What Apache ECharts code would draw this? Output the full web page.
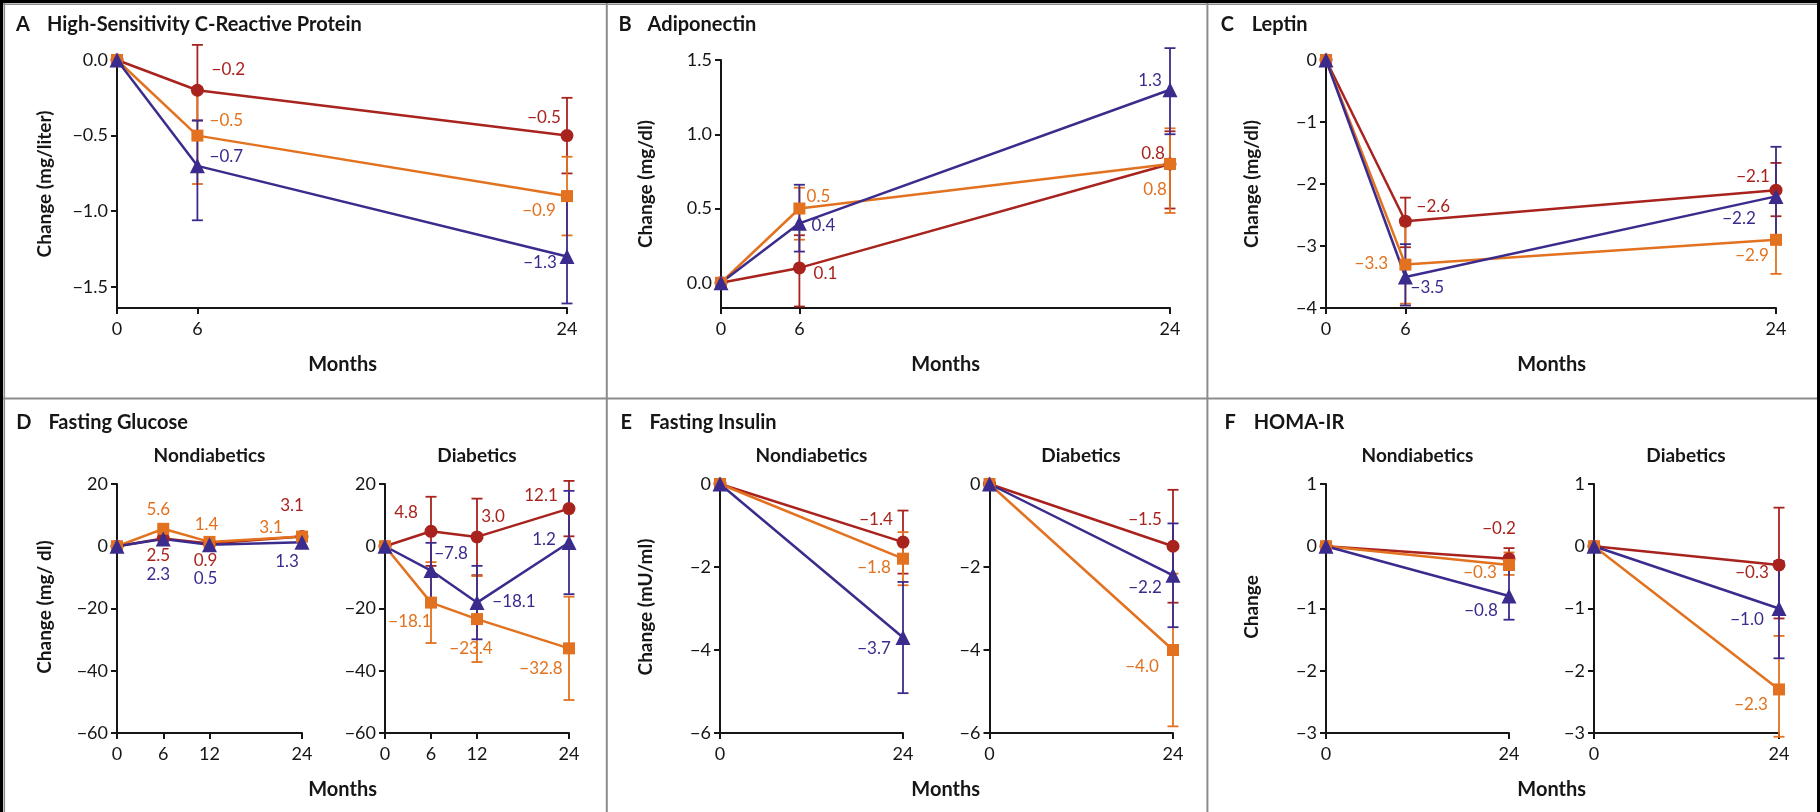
<!DOCTYPE html>
<html>
<head>
<meta charset="utf-8">
<title>Changes in Biomarkers by Diet Group</title>
<script src="https://cdn.jsdelivr.net/npm/echarts@6/dist/echarts.min.js"></script>
<style>
  html, body { margin: 0; padding: 0; background: #fff; }
  #chart { width: 1820px; height: 812px; }
</style>
</head>
<body>
<div id="chart"></div>
<script>
// ---------- data ----------
// Diet groups: low-fat (red circles), Mediterranean (orange squares), low-carbohydrate (blue triangles)

// A: high-sensitivity C-reactive protein (mg/liter)
const crpMonths = [0, 6, 24];
const crpLowFat = [0, -0.2, -0.5];
const crpMed = [0, -0.5, -0.9];
const crpLowCarb = [0, -0.7, -1.3];
const crpLowFatCI = [null, [-0.40, 0.10], [-0.75, -0.25]];
const crpMedCI = [null, [-0.82, -0.18], [-1.16, -0.64]];
const crpLowCarbCI = [null, [-1.06, -0.40], [-1.61, -0.89]];
const crpTicks = [0, -0.5, -1.0, -1.5];

// B: adiponectin (mg/dl)
const adipoMonths = [0, 6, 24];
const adipoLowFat = [0, 0.1, 0.8];
const adipoMed = [0, 0.5, 0.8];
const adipoLowCarb = [0, 0.4, 1.3];
const adipoLowFatCI = [null, [-0.16, 0.32], [0.50, 1.02]];
const adipoMedCI = [null, [0.29, 0.64], [0.47, 1.04]];
const adipoLowCarbCI = [null, [0.21, 0.66], [1.00, 1.58]];
const adipoTicks = [0, 0.5, 1.0, 1.5];

// C: leptin (mg/dl)
const leptinMonths = [0, 6, 24];
const leptinLowFat = [0, -2.6, -2.1];
const leptinMed = [0, -3.3, -2.9];
const leptinLowCarb = [0, -3.5, -2.2];
const leptinLowFatCI = [null, [-3.02, -2.22], [-2.52, -1.66]];
const leptinMedCI = [null, [-3.93, -2.67], [-3.45, -2.31]];
const leptinLowCarbCI = [null, [-3.96, -2.97], [-2.96, -1.40]];
const leptinTicks = [0, -1, -2, -3, -4];

// D: fasting glucose (mg/dl)
const glucoseMonths = [0, 6, 12, 24];
const glucoseNonLowFat = [0, 2.5, 0.9, 3.1];
const glucoseNonMed = [0, 5.6, 1.4, 3.1];
const glucoseNonLowCarb = [0, 2.3, 0.5, 1.3];
const glucoseDiabLowFat = [0, 4.8, 3.0, 12.1];
const glucoseDiabMed = [0, -18.1, -23.4, -32.8];
const glucoseDiabLowCarb = [0, -7.8, -18.1, 1.2];
const glucoseDiabLowFatCI = [null, [-6.3, 15.9], [-9.3, 15.3], [3.2, 21.0]];
const glucoseDiabMedCI = [null, [-31.1, -5.1], [-37.2, -9.6], [-49.4, -16.2]];
const glucoseDiabLowCarbCI = [null, [-16.7, 1.1], [-29.9, -6.3], [-15.4, 17.8]];
const glucoseTicks = [20, 0, -20, -40, -60];

// E: fasting insulin (mU/ml)
const insulinMonths = [0, 24];
const insulinNonLowFat = [0, -1.4];
const insulinNonMed = [0, -1.8];
const insulinNonLowCarb = [0, -3.7];
const insulinNonLowFatCI = [null, [-2.16, -0.64]];
const insulinNonMedCI = [null, [-2.44, -1.16]];
const insulinNonLowCarbCI = [null, [-5.04, -2.36]];
const insulinDiabLowFat = [0, -1.5];
const insulinDiabMed = [0, -4.0];
const insulinDiabLowCarb = [0, -2.2];
const insulinDiabLowFatCI = [null, [-2.86, -0.14]];
const insulinDiabMedCI = [null, [-5.84, -2.16]];
const insulinDiabLowCarbCI = [null, [-3.45, -0.95]];
const insulinTicks = [0, -2, -4, -6];

// F: HOMA-IR
const homaMonths = [0, 24];
const homaNonLowFat = [0, -0.2];
const homaNonMed = [0, -0.3];
const homaNonLowCarb = [0, -0.8];
const homaNonLowFatCI = [null, [-0.37, -0.03]];
const homaNonMedCI = [null, [-0.46, -0.10]];
const homaNonLowCarbCI = [null, [-1.18, -0.38]];
const homaDiabLowFat = [0, -0.3];
const homaDiabMed = [0, -2.3];
const homaDiabLowCarb = [0, -1.0];
const homaDiabLowFatCI = [null, [-1.16, 0.62]];
const homaDiabMedCI = [null, [-3.06, -1.44]];
const homaDiabLowCarbCI = [null, [-1.80, -0.24]];
const homaTicks = [1, 0, -1, -2, -3];

// ---------- styling ----------
const FONT = 'Lato';
const INK = '#161616';
const RULE = '#8c8c8c';
const GROUPS = ['lowFat', 'med', 'lowCarb'];
const COLOR = { lowFat: '#A8231E', med: '#E2721F', lowCarb: '#3B2B8C' };
const SYMBOL = { lowFat: 'circle', med: 'rect', lowCarb: 'triangle' };
const SYMBOL_SIZE = { lowFat: 13, med: 12, lowCarb: 15 };

function fmt(v, dec) {
  return (v < 0 ? '\u2212' : '') + Math.abs(v).toFixed(dec);
}

// ---------- subplots (data + layout) ----------
const subplots = [
  {
    months: crpMonths, ticks: crpTicks, dec: 1, yMin: -1.64, yMax: 0,
    box: { left: 117, split: 197.4, right: 567, top: 60, bottom: 308 },
    values: { lowFat: crpLowFat, med: crpMed, lowCarb: crpLowCarb },
    ci: { lowFat: crpLowFatCI, med: crpMedCI, lowCarb: crpLowCarbCI },
    labelOffset: {
      lowFat: [null, [31, -21], [-23, -18]],
      med: [null, [29, -15], [-28, 14]],
      lowCarb: [null, [29, -9], [-27, 6]]
    }
  },
  {
    months: adipoMonths, ticks: adipoTicks, dec: 1, yMin: -0.17, yMax: 1.5,
    box: { left: 721, split: 799.4, right: 1170, top: 60, bottom: 308 },
    values: { lowFat: adipoLowFat, med: adipoMed, lowCarb: adipoLowCarb },
    ci: { lowFat: adipoLowFatCI, med: adipoMedCI, lowCarb: adipoLowCarbCI },
    labelOffset: {
      lowFat: [null, [26, 6], [-17, -10]],
      med: [null, [19, -12], [-15, 26]],
      lowCarb: [null, [24, 2], [-20, -9]]
    }
  },
  {
    months: leptinMonths, ticks: leptinTicks, dec: 0, yMin: -4, yMax: 0,
    box: { left: 1326, split: 1405.4, right: 1776, top: 60, bottom: 308 },
    values: { lowFat: leptinLowFat, med: leptinMed, lowCarb: leptinLowCarb },
    ci: { lowFat: leptinLowFatCI, med: leptinMedCI, lowCarb: leptinLowCarbCI },
    labelOffset: {
      lowFat: [null, [28, -15], [-23, -14]],
      med: [null, [-34, -1], [-24, 16]],
      lowCarb: [null, [22, 11], [-37, 22]]
    }
  },
  {
    months: glucoseMonths, ticks: glucoseTicks, dec: 0, yMin: -60, yMax: 20,
    box: { left: 117, right: 302, top: 484, bottom: 733 },
    values: { lowFat: glucoseNonLowFat, med: glucoseNonMed, lowCarb: glucoseNonLowCarb },
    ci: null,
    labelOffset: {
      lowFat: [null, [-5, 17], [-4, 17], [-10, -31]],
      med: [null, [-5, -19], [-3, -17], [-31, -9]],
      lowCarb: [null, [-5, 35], [-4, 34], [-15, 19]]
    }
  },
  {
    months: glucoseMonths, ticks: glucoseTicks, dec: 0, yMin: -60, yMax: 20,
    box: { left: 385, right: 569, top: 484, bottom: 733 },
    values: { lowFat: glucoseDiabLowFat, med: glucoseDiabMed, lowCarb: glucoseDiabLowCarb },
    ci: { lowFat: glucoseDiabLowFatCI, med: glucoseDiabMedCI, lowCarb: glucoseDiabLowCarbCI },
    labelOffset: {
      lowFat: [null, [-25, -19], [16, -20], [-28, -13]],
      med: [null, [-21, 19], [-6, 29], [-28, 20]],
      lowCarb: [null, [20, -17], [37, -1], [-25, -3]]
    }
  },
  {
    months: insulinMonths, ticks: insulinTicks, dec: 0, yMin: -6, yMax: 0,
    box: { left: 720, right: 903, top: 484, bottom: 733 },
    values: { lowFat: insulinNonLowFat, med: insulinNonMed, lowCarb: insulinNonLowCarb },
    ci: { lowFat: insulinNonLowFatCI, med: insulinNonMedCI, lowCarb: insulinNonLowCarbCI },
    labelOffset: {
      lowFat: [null, [-27, -23]],
      med: [null, [-29, 9]],
      lowCarb: [null, [-29, 11]]
    }
  },
  {
    months: insulinMonths, ticks: insulinTicks, dec: 0, yMin: -6, yMax: 0,
    box: { left: 989.5, right: 1173, top: 484, bottom: 733 },
    values: { lowFat: insulinDiabLowFat, med: insulinDiabMed, lowCarb: insulinDiabLowCarb },
    ci: { lowFat: insulinDiabLowFatCI, med: insulinDiabMedCI, lowCarb: insulinDiabLowCarbCI },
    labelOffset: {
      lowFat: [null, [-28, -27]],
      med: [null, [-31, 17]],
      lowCarb: [null, [-28, 12]]
    }
  },
  {
    months: homaMonths, ticks: homaTicks, dec: 0, yMin: -3, yMax: 1,
    box: { left: 1326, right: 1509, top: 484, bottom: 733 },
    values: { lowFat: homaNonLowFat, med: homaNonMed, lowCarb: homaNonLowCarb },
    ci: { lowFat: homaNonLowFatCI, med: homaNonMedCI, lowCarb: homaNonLowCarbCI },
    labelOffset: {
      lowFat: [null, [-10, -30]],
      med: [null, [-29, 8]],
      lowCarb: [null, [-28, 14]]
    }
  },
  {
    months: homaMonths, ticks: homaTicks, dec: 0, yMin: -3, yMax: 1,
    box: { left: 1594, right: 1779, top: 484, bottom: 733 },
    values: { lowFat: homaDiabLowFat, med: homaDiabMed, lowCarb: homaDiabLowCarb },
    ci: { lowFat: homaDiabLowFatCI, med: homaDiabMedCI, lowCarb: homaDiabLowCarbCI },
    labelOffset: {
      lowFat: [null, [-27, 8]],
      med: [null, [-28, 15]],
      lowCarb: [null, [-32, 11]]
    }
  }
];

// ---------- option assembly ----------
const grids = [], xAxes = [], yAxes = [], series = [];
const axisLineStyle = { color: INK, width: 2 };

function addCoord(left, right, top, bottom, xMin, xMax, xTicks, sp, showY) {
  const gi = grids.length;
  grids.push({ left: left, top: top, width: right - left, height: bottom - top,
               containLabel: false, outerBoundsMode: 'none' });
  xAxes.push({
    type: 'value', gridIndex: gi, min: xMin, max: xMax,
    axisLine: { show: true, onZero: false, lineStyle: axisLineStyle },
    axisTick: { show: true, customValues: xTicks, length: 6, lineStyle: axisLineStyle },
    axisLabel: { show: true, customValues: xTicks, margin: 12, fontFamily: FONT, fontSize: 18, color: INK },
    splitLine: { show: false }
  });
  yAxes.push({
    type: 'value', gridIndex: gi, show: showY, min: sp.yMin, max: sp.yMax,
    axisLine: { show: true, onZero: false, lineStyle: axisLineStyle },
    axisTick: { show: true, customValues: sp.ticks, length: 6, lineStyle: axisLineStyle },
    axisLabel: { show: true, customValues: sp.ticks, margin: 9, fontFamily: FONT, fontSize: 18, color: INK,
                 formatter: (v) => fmt(v, sp.dec) },
    splitLine: { show: false }
  });
  return gi;
}

function errorBars(gi, sp, g) {
  const rows = [];
  sp.ci[g].forEach((r, i) => { if (r) rows.push([sp.months[i], r[0], r[1]]); });
  const color = COLOR[g];
  series.push({
    type: 'custom', xAxisIndex: gi, yAxisIndex: gi, z: 2, clip: false, silent: true,
    renderItem: (params, api) => {
      const x = api.value(0);
      const pLo = api.coord([x, api.value(1)]);
      const pHi = api.coord([x, api.value(2)]);
      const w = 5.5;
      const st = { stroke: color, lineWidth: 1.8 };
      return { type: 'group', children: [
        { type: 'line', shape: { x1: pLo[0], y1: pLo[1], x2: pHi[0], y2: pHi[1] }, style: st },
        { type: 'line', shape: { x1: pHi[0] - w, y1: pHi[1], x2: pHi[0] + w, y2: pHi[1] }, style: st },
        { type: 'line', shape: { x1: pLo[0] - w, y1: pLo[1], x2: pLo[0] + w, y2: pLo[1] }, style: st }
      ] };
    },
    data: rows
  });
}

function pointItem(sp, g, i, withLabel) {
  const v = sp.values[g][i];
  const item = { value: [sp.months[i], v] };
  const off = sp.labelOffset[g][i];
  if (withLabel && off) {
    item.label = {
      show: true, position: 'inside', offset: off, align: 'center', verticalAlign: 'middle',
      formatter: fmt(v, 1), color: COLOR[g], fontFamily: FONT, fontSize: 17
    };
  }
  return item;
}

function lineSeries(gi, g, data) {
  return {
    type: 'line', xAxisIndex: gi, yAxisIndex: gi, z: 3, clip: false, silent: true,
    symbol: SYMBOL[g], symbolSize: SYMBOL_SIZE[g], showAllSymbol: true,
    lineStyle: { color: COLOR[g], width: 2.5 },
    itemStyle: { color: COLOR[g] },
    label: { show: false },
    emphasis: { disabled: true },
    data: data
  };
}

subplots.forEach((sp) => {
  const b = sp.box;
  if (b.split !== undefined) {
    // month axis drawn in two linear pieces: 0-6 and 6-24
    const g1 = addCoord(b.left, b.split, b.top, b.bottom, 0, 6, [0, 6], sp, true);
    const g2 = addCoord(b.split, b.right, b.top, b.bottom, 6, 24, [24], sp, false);
    GROUPS.forEach((g) => errorBars(g2, sp, g));
    GROUPS.forEach((g) => {
      const first = pointItem(sp, g, 0, false);
      const mid = pointItem(sp, g, 1, false);
      mid.symbol = 'none';
      series.push(lineSeries(g1, g, [first, mid]));
    });
    GROUPS.forEach((g) => {
      const pts = [];
      for (let i = 1; i < sp.months.length; i++) pts.push(pointItem(sp, g, i, true));
      series.push(lineSeries(g2, g, pts));
    });
  } else {
    const gi = addCoord(b.left, b.right, b.top, b.bottom, 0, 24, sp.months, sp, true);
    if (sp.ci) GROUPS.forEach((g) => errorBars(gi, sp, g));
    GROUPS.forEach((g) => {
      const pts = sp.months.map((m, i) => pointItem(sp, g, i, i > 0));
      series.push(lineSeries(gi, g, pts));
    });
  }
});

// ---------- frame and text ----------
const graphic = [];
function rect(x, y, w, h, fill) {
  graphic.push({ type: 'rect', silent: true, shape: { x: x, y: y, width: w, height: h }, style: { fill: fill } });
}
function text(x, y, str, font, align, rotation) {
  graphic.push({
    type: 'text', silent: true, x: x, y: y, rotation: rotation || 0,
    style: { text: str, font: font, fill: INK,
             align: align, textAlign: align, verticalAlign: 'middle', textVerticalAlign: 'middle' }
  });
}

// outer frame
rect(0, 0, 1820, 3, '#000');
rect(0, 0, 3, 812, '#000');
rect(1817, 0, 3, 812, '#000');
// panel rules
rect(3, 3.5, 1814, 1.6, RULE);
rect(3.5, 3, 1.6, 809, RULE);
rect(605.8, 3, 2, 809, RULE);
rect(1206.4, 3, 2, 809, RULE);
rect(3, 397.6, 1814, 2, RULE);

const TITLE_FONT = 'bold 20px ' + FONT;
const SUB_FONT = 'bold 19px ' + FONT;
const AXIS_NAME_FONT = 'bold 19px ' + FONT;

const panelTitles = [
  ['A', 16, 47, 25, 'High-Sensitivity C-Reactive Protein'],
  ['B', 618.6, 647.6, 25, 'Adiponectin'],
  ['C', 1220.7, 1251.7, 25, 'Leptin'],
  ['D', 16.3, 48.4, 423, 'Fasting Glucose'],
  ['E', 620.5, 649.6, 423, 'Fasting Insulin'],
  ['F', 1224.6, 1253.7, 423, 'HOMA-IR']
];
panelTitles.forEach((t) => {
  text(t[1], t[3], t[0], TITLE_FONT, 'left');
  text(t[2], t[3], t[4], TITLE_FONT, 'left');
});

const subTitles = [
  [209.5, 'Nondiabetics'], [477, 'Diabetics'],
  [811.5, 'Nondiabetics'], [1081, 'Diabetics'],
  [1417.5, 'Nondiabetics'], [1686, 'Diabetics']
];
subTitles.forEach((s) => text(s[0], 456, s[1], SUB_FONT, 'center'));

const monthsLabels = [[342.6, 365], [945.7, 365], [1551.7, 365], [342.6, 790], [945.7, 790], [1551.7, 790]];
monthsLabels.forEach((m) => text(m[0], m[1], 'Months', TITLE_FONT, 'center'));

const yNames = [
  [44.5, 184, 'Change (mg/liter)'],
  [645.7, 184, 'Change (mg/dl)'],
  [1251.7, 184, 'Change (mg/dl)'],
  [44.5, 607, 'Change (mg/ dl)'],
  [645.7, 607, 'Change (mU/ml)'],
  [1251.7, 607, 'Change']
];
yNames.forEach((n) => text(n[0], n[1], n[2], AXIS_NAME_FONT, 'center', Math.PI / 2));

const chart = echarts.init(document.getElementById('chart'), null, { renderer: 'canvas', width: 1820, height: 812 });
chart.setOption({
  animation: false,
  backgroundColor: '#ffffff',
  textStyle: { fontFamily: FONT },
  grid: grids,
  xAxis: xAxes,
  yAxis: yAxes,
  series: series,
  graphic: graphic
});
</script>
</body>
</html>
